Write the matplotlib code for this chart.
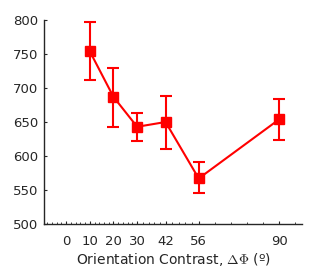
import numpy as np
import matplotlib
matplotlib.use("Agg")
import matplotlib.pyplot as plt

contrast = [10, 20, 30, 42, 56, 90]
mean_val = [754, 687, 643, 650, 567, 654]
err_hi = [797, 730, 663, 689, 591, 684]
err_lo = [712, 643, 622, 610, 545, 623]
xticks = [0, 10, 20, 30, 42, 56, 90]
yticks = [500, 550, 600, 650, 700, 750, 800]

plt.rcParams["mathtext.fontset"] = "cm"
txt = "#262626"

fig = plt.figure(figsize=(3.34, 2.67), dpi=100)
ax = fig.add_axes([0.132, 0.161, 0.772, 0.764])

m = np.array(mean_val)
yerr = [m - np.array(err_lo), np.array(err_hi) - m]
ax.errorbar(contrast, mean_val, yerr=yerr, color="red", marker="s",
            markersize=7, linewidth=1.5, elinewidth=1.5, capsize=4, capthick=1.5)

ax.set_xticks(xticks)
ax.set_yticks(yticks)

# minor ticks: each major interval split into 5
minor = []
step0 = (xticks[1] - xticks[0]) / 5
minor += list(np.arange(xticks[0] - step0, -10, -step0))
for a, b in zip(xticks[:-1], xticks[1:]):
    minor += list(np.linspace(a, b, 6)[1:-1])
step1 = (xticks[-1] - xticks[-2]) / 5
minor += list(np.arange(xticks[-1] + step1, 100, step1))
ax.set_xticks(minor, minor=True)

ax.set_xlim(-9.3, 99.6)
ax.set_ylim(500, 800)

for s in ["top", "right"]:
    ax.spines[s].set_visible(False)
for s in ["left", "bottom"]:
    ax.spines[s].set_color(txt)
    ax.spines[s].set_linewidth(1.0)
ax.tick_params(axis="both", which="major", direction="in", length=2.5,
               colors=txt, labelsize=9.5, pad=8)
ax.tick_params(axis="x", which="minor", direction="in", length=1.5, color=txt)
ax.tick_params(axis="y", pad=4)
ax.set_xlabel(r"Orientation Contrast, $\Delta\Phi$ (º)", fontsize=10, color=txt, labelpad=2)

fig.savefig("out.png", dpi=100)
